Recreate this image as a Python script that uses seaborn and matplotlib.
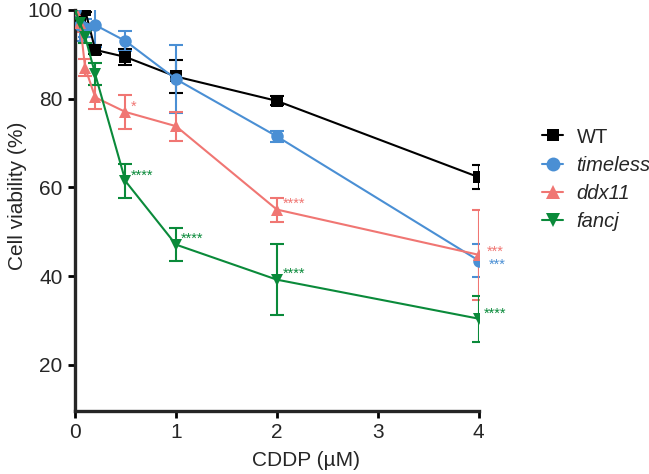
import pandas as pd
import numpy as np
import matplotlib
matplotlib.use("Agg")
import matplotlib.pyplot as plt
from matplotlib.lines import Line2D
import seaborn as sns

# doses (uM) and mean viability (%) per strain
dose = [0, 0.05, 0.1, 0.2, 0.5, 1, 2, 4]
wt = [100, 98, 100, 91, 89.4, 85, 79.5, 62.3]
timeless = [100, 96.5, 96, 96.6, 93, 84.4, 71.5, 43.5]
ddx11 = [100, 97, 87, 80.3, 77, 73.8, 55, 44.8]
fancj = [100, 97, 94, 85.5, 61.4, 47.1, 39.2, 30.4]

# error bar half-widths
wt_err = [0, 1, 0.5, 1, 1.8, 3.8, 1, 2.7]
timeless_err = [0, 3.5, 2, 5, 2.3, 7.7, 1.3, 3.8]
ddx11_err = [0, 2, 2, 2.7, 3.8, 3.3, 2.7, 10.2]
fancj_err = [0, 1.5, 1.5, 2.5, 3.8, 3.8, 8, 5.2]

strains = ["WT", "timeless", "ddx11", "fancj"]
colors = ["#000000", "#4a8fd4", "#f07673", "#0a8a3a"]
markers = ["s", "o", "^", "v"]
msizes = [8, 10, 10, 10]

# significance labels: (strain, dose, text, x offset, y offset in points)
stars = [("ddx11", 0.5, "*", 4, 1), ("ddx11", 2, "****", 4, 1), ("ddx11", 4, "***", 6, -0.5),
         ("timeless", 4, "***", 7, -6),
         ("fancj", 0.5, "****", 3.5, 1), ("fancj", 1, "****", 3.5, 1),
         ("fancj", 2, "****", 4, 1), ("fancj", 4, "****", 4, 1)]

means = dict(zip(strains, [wt, timeless, ddx11, fancj]))
errs = dict(zip(strains, [wt_err, timeless_err, ddx11_err, fancj_err]))

df = pd.concat([pd.DataFrame({"dose": dose, "viability": means[s], "err": errs[s], "strain": s})
                for s in strains], ignore_index=True)

sns.set_style("ticks")
plt.rcParams['font.family'] = ['Liberation Sans', 'DejaVu Sans']

fig = plt.figure(figsize=(6.49, 4.74), dpi=100)
ax = fig.add_axes([0.1156, 0.133, 0.622, 0.846])

for s, c in zip(strains, colors):
    d = df[df.strain == s]
    ax.errorbar(d.dose, d.viability, yerr=d.err, fmt="none", ecolor=c,
                elinewidth=1.5, capsize=5, capthick=1.5, zorder=2)

sns.lineplot(data=df, x="dose", y="viability", hue="strain", style="strain",
             hue_order=strains, style_order=strains,
             palette=dict(zip(strains, colors)), markers=dict(zip(strains, markers)),
             dashes=False, linewidth=1.5, markersize=9, markeredgewidth=0,
             legend=False, ax=ax, zorder=3)

for s, x, t, dx, dy in stars:
    y = means[s][dose.index(x)]
    c = colors[strains.index(s)]
    ax.annotate(t, (x, y), xytext=(dx, dy), textcoords="offset points",
                color=c, fontsize=10.5, ha="left", va="baseline")

ax.set_xlim(0, 4)
ax.set_ylim(9.6, 100)
ax.set_xticks([0, 1, 2, 3, 4])
ax.set_yticks([20, 40, 60, 80, 100])
ax.tick_params(axis="both", labelsize=15, width=2, length=5, pad=4, color="black")
for side in ["left", "bottom"]:
    ax.spines[side].set_linewidth(2.4)
sns.despine(ax=ax)
ax.set_xlabel("CDDP (µM)", fontsize=15)
ax.set_ylabel("Cell viability (%)", fontsize=15)
ax.xaxis.set_label_coords(0.572, -0.1)
ax.yaxis.set_label_coords(-0.12, 0.536)

handles = [Line2D([], [], color=c, marker=m, markersize=ms, linewidth=1.5, markeredgewidth=0)
           for c, m, ms in zip(colors, markers, msizes)]
leg = fig.legend(handles, strains, loc="upper left", bbox_to_anchor=(0.823, 0.748),
                 frameon=False, fontsize=14.5, handlelength=1.05, handletextpad=0.65,
                 labelspacing=0.45, borderaxespad=0)
for t in leg.get_texts()[1:]:
    t.set_style("italic")

fig.savefig("out.png", dpi=100)
